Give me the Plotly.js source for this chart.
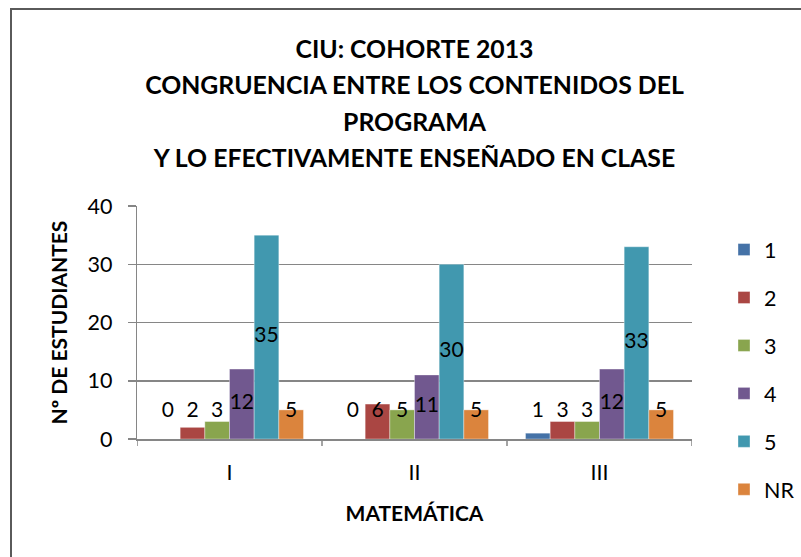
<!DOCTYPE html>
<html><head><meta charset="utf-8">
<script src="https://cdn.plot.ly/plotly-3.0.1.min.js"></script>
<style>
html,body{margin:0;padding:0;background:#fff;}
#wrap{position:relative;width:801px;height:557px;overflow:hidden;}
#chart{position:absolute;left:0;top:0;width:801px;height:557px;}
#frame{position:absolute;left:10px;top:8px;width:900px;height:700px;border-left:2px solid #5a5a5a;border-top:2px solid #5a5a5a;pointer-events:none;}
</style></head>
<body><div id="wrap"><div id="chart"></div><div id="frame"></div></div>
<script>
const categories = ["I", "II", "III"];
const seriesNames = ["1", "2", "3", "4", "5", "NR"];
const s1 = [0, 0, 1];
const s2 = [2, 6, 3];
const s3 = [3, 5, 3];
const s4 = [12, 11, 12];
const s5 = [35, 30, 33];
const sNR = [5, 5, 5];
const colors = ["#4572A7", "#AA4643", "#89A54E", "#71588F", "#4198AF", "#DB843D"];
const titleLines = ["CIU: COHORTE 2013", "CONGRUENCIA ENTRE LOS CONTENIDOS DEL", "PROGRAMA", "Y LO EFECTIVAMENTE ENSEÑADO EN CLASE"];
const yTitle = "Nº DE ESTUDIANTES";
const xTitle = "MATEMÁTICA";

const allSeries = [s1, s2, s3, s4, s5, sNR];
const FONT = "Lato, 'Open Sans', sans-serif";
const bargap = 0.2;
const nS = allSeries.length;
const bw = (1 - bargap) / nS;
const xIdx = categories.map((c, i) => i);

const traces = [];
allSeries.forEach((vals, k) => {
  traces.push({
    type: "bar", name: seriesNames[k], x: xIdx, y: vals,
    marker: {color: colors[k], line: {color: "rgba(255,255,255,0.6)", width: 0.6}},
    legendgroup: "g" + k
  });
});
allSeries.forEach((vals, k) => {
  const off = (k - (nS - 1) / 2) * bw;
  traces.push({
    type: "scatter", mode: "text", showlegend: false,
    x: xIdx.map(i => i + off),
    y: vals.map(v => Math.max(v / 2, 4.7)),
    text: vals.map(String),
    textposition: "middle center",
    textfont: {family: FONT, size: 21, color: "#000"},
    cliponaxis: false
  });
});

const layout = {
  width: 801, height: 557,
  margin: {l: 137, r: 109, t: 206, b: 118, pad: 0},
  paper_bgcolor: "rgba(0,0,0,0)", plot_bgcolor: "rgba(0,0,0,0)",
  font: {family: FONT, color: "#000"},
  barmode: "group", bargap: bargap, bargroupgap: 0,
  title: {
    text: titleLines.map(t => '<span style="font-size:24.8px">' + t + '</span>').join("<br>"),
    font: {family: FONT, size: 28, color: "#000", weight: "bold"},
    x: 0.5, xref: "paper", xanchor: "center",
    y: 1 - 58 / 557, yref: "container", yanchor: "top"
  },
  xaxis: {
    range: [-0.5, 2.5], tickmode: "array", tickvals: xIdx, ticktext: categories,
    showgrid: false, showline: true, linecolor: "#868686", linewidth: 1.5,
    ticks: "outside", ticklen: 14, tickcolor: "rgba(0,0,0,0)",
    tickfont: {family: FONT, size: 21.5, color: "#000"},
    title: {text: xTitle, font: {family: FONT, size: 21, color: "#000", weight: "bold"}, standoff: 22},
    zeroline: false, automargin: false
  },
  yaxis: {
    range: [0, 40], dtick: 10, showgrid: true, gridcolor: "#868686", gridwidth: 1.5,
    showline: true, linecolor: "#868686", linewidth: 1.5,
    ticks: "outside", ticklen: 8, tickcolor: "#868686", tickwidth: 1.5,
    ticksuffix: "\u2002",
    tickfont: {family: FONT, size: 21.5, color: "#000"},
    title: {text: yTitle, font: {family: FONT, size: 21, color: "#000", weight: "bold"}, standoff: 14},
    zeroline: false, automargin: false
  },
  shapes: [0, 1, 2, 3].map(i => ({
    type: "line", xref: "x", yref: "paper", x0: i - 0.5, x1: i - 0.5, y0: 0, y1: -0.03,
    line: {color: "#868686", width: 1.5}
  })),
  legend: {
    x: 724 / 801, xref: "container", xanchor: "left", y: 0.901, yanchor: "top",
    traceorder: "grouped", tracegroupgap: 17, maxheight: 520,
    font: {family: FONT, size: 21.5, color: "#000"}, bgcolor: "rgba(0,0,0,0)"
  },
  showlegend: true
};

Plotly.newPlot("chart", traces, layout, {displayModeBar: false, staticPlot: true});
</script></body></html>
